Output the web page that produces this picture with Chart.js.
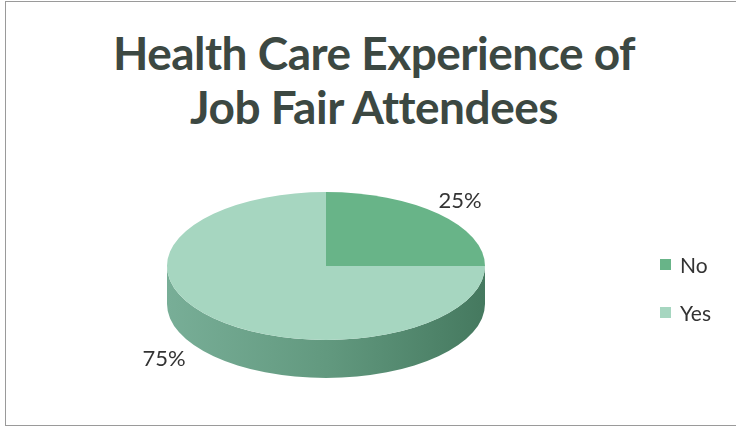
<!DOCTYPE html>
<html>
<head>
<meta charset="utf-8">
<script src="https://cdn.jsdelivr.net/npm/chart.js@4"></script>
<style>
    html, body { margin: 0; padding: 0; background: #fff; }
    #wrap { position: relative; width: 736px; height: 430px; overflow: hidden; }
    #frame {
        position: absolute; left: 5px; top: 1px; width: 740px; height: 425px;
        border: 1.5px solid #9a9a9a; box-sizing: border-box;
    }
    #title {
        position: absolute; left: 0; top: 26px; width: 748px; text-align: center;
        font-family: Lato, sans-serif; font-weight: 700; font-size: 46px; line-height: 54px;
        color: #3c4842; letter-spacing: -0.5px;
    }
    #pie { position: absolute; left: 0; top: 0; }
    #legend {
        position: absolute; left: 660px; top: 252px;
        font-family: Lato, sans-serif; font-size: 21px; color: #333;
    }
    #legend div { height: 48px; display: flex; align-items: flex-start; }
    #legend span.box { width: 11px; height: 11px; margin: 7px 9px 0 0; }
</style>
</head>
<body>
<div id="wrap">
    <div id="frame"></div>
    <div id="title">Health Care Experience of<br>Job Fair Attendees</div>
    <canvas id="pie" width="736" height="430"></canvas>
    <div id="legend"></div>
</div>
<script>
const labels = ['No', 'Yes'];
const values = [25, 75];
const topColors = ['#68b488', '#a6d6c0'];

// squashed ellipse look for the pie top, plus the side wall depth
const tilt = 74 / 159;
const depth = 38;

const pie3d = {
    id: 'pie3d',
    beforeDatasetsDraw(chart) {
        const ctx = chart.ctx;
        const arcs = chart.getDatasetMeta(0).data;
        const cx = arcs[0].x, cy = arcs[0].y, r = arcs[0].outerRadius;
        const ry = r * tilt;

        // side wall: only the front half (0..PI) shows
        const grad = ctx.createLinearGradient(cx - r, 0, cx + r, 0);
        grad.addColorStop(0, '#78ae97');
        grad.addColorStop(0.5, '#62997f');
        grad.addColorStop(1, '#45795f');
        arcs.forEach(arc => {
            let a0 = Math.max(arc.startAngle, 0);
            let a1 = Math.min(arc.endAngle, Math.PI);
            if (a1 <= a0) return;
            ctx.save();
            ctx.beginPath();
            ctx.ellipse(cx, cy, r, ry, 0, a0, a1);
            ctx.ellipse(cx, cy + depth, r, ry, 0, a1, a0, true);
            ctx.closePath();
            ctx.fillStyle = grad;
            ctx.fill();
            ctx.restore();
        });

        ctx.save();
        ctx.translate(cx, cy);
        ctx.scale(1, tilt);
        ctx.translate(-cx, -cy);
    },
    afterDatasetsDraw(chart) {
        const ctx = chart.ctx;
        ctx.restore();

        const arcs = chart.getDatasetMeta(0).data;
        const total = values.reduce((a, b) => a + b, 0);
        ctx.save();
        ctx.font = '22px Lato, sans-serif';
        ctx.fillStyle = '#333';
        arcs.forEach((arc, i) => {
            const mid = (arc.startAngle + arc.endAngle) / 2;
            const px = arc.x + arc.outerRadius * Math.cos(mid);
            const py = arc.y + arc.outerRadius * tilt * Math.sin(mid);
            const text = Math.round(values[i] / total * 100) + '%';
            if (Math.cos(mid) >= 0) {
                ctx.textAlign = 'left';
                ctx.textBaseline = 'alphabetic';
                ctx.fillText(text, px, py - 6);
            } else {
                ctx.textAlign = 'right';
                ctx.textBaseline = 'middle';
                ctx.fillText(text, px - 28, py + depth + 3);
            }
        });
        ctx.restore();
    }
};

new Chart(document.getElementById('pie'), {
    type: 'pie',
    data: {
        labels: labels,
        datasets: [{
            data: values,
            backgroundColor: topColors,
            borderWidth: 0,
            clip: false
        }]
    },
    options: {
        responsive: false,
        animation: false,
        layout: { padding: { left: 167, right: 251, top: 107, bottom: 5 } },
        plugins: {
            legend: { display: false },
            tooltip: { enabled: false },
            title: { display: false }
        }
    },
    plugins: [pie3d]
});

const legend = document.getElementById('legend');
labels.forEach((name, i) => {
    const row = document.createElement('div');
    const box = document.createElement('span');
    box.className = 'box';
    box.style.background = topColors[i];
    row.appendChild(box);
    row.appendChild(document.createTextNode(name));
    legend.appendChild(row);
});
</script>
</body>
</html>
